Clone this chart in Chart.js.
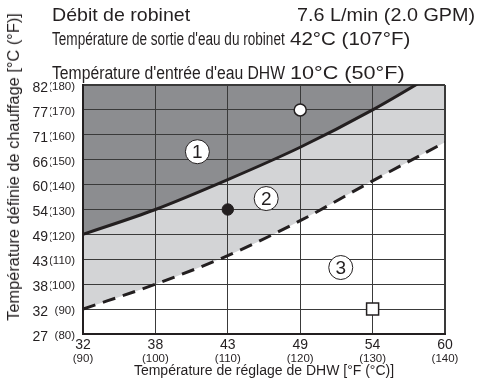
<!DOCTYPE html>
<html lang="fr">
<head>
<meta charset="utf-8">
<script src="https://cdn.jsdelivr.net/npm/chart.js@4.4.0/dist/chart.umd.min.js"></script>
<style>
  html, body { margin: 0; padding: 0; background: #fff; }
  #marco { position: relative; width: 477px; height: 381px; overflow: hidden;
           font-family: "Liberation Sans", Arial, sans-serif; color: #231f20; }
  #marco canvas { position: absolute; left: 0; top: 0; }
  .txt { position: absolute; white-space: nowrap; line-height: 1; transform-origin: 0 0; }
  #tituloY { position: absolute; white-space: nowrap; line-height: 1; font-size: 16px; }
</style>
</head>
<body>
<div id="marco">
  <canvas id="grafico" width="477" height="381"></canvas>
  <div class="txt" id="l1a" style="left:52px; top:5px; font-size:19px;">Débit de robinet</div>
  <div class="txt" id="l1b" style="left:297px; top:5px; font-size:19px;">7.6 L/min (2.0 GPM)</div>
  <div class="txt" id="l2a" style="left:52px; top:30px; font-size:18px;">Température de sortie d'eau du robinet</div>
  <div class="txt" id="l2b" style="left:290px; top:29px; font-size:19px;">42°C (107°F)</div>
  <div class="txt" id="l3a" style="left:52px; top:64px; font-size:18px;">Température d'entrée d'eau DHW</div>
  <div class="txt" id="l3b" style="left:290px; top:63px; font-size:19px;">10°C (50°F)</div>
  <div id="tituloY">Température définie de chauffage [°C (°F)]</div>
</div>
<script>
// datos (todo en °F, etiquetas en °C)
const xTicksF = [90, 100, 110, 120, 130, 140];
const xTicksC = ['32', '38', '43', '49', '54', '60'];
const yTicksF = [80, 90, 100, 110, 120, 130, 140, 150, 160, 170, 180];
const yTicksC = ['27', '32', '38', '43', '49', '54', '60', '66', '71', '77', '82'];

const curvaX = [90, 100, 110, 120, 130, 140];
const limiteSuperior = [120, 130, 142, 155, 170, 187];   // línea continua
const limiteInferior = [90, 100, 111.5, 125.5, 141.5, 157]; // línea discontinua

const puntoAbierto = [{ x: 120, y: 170 }];
const puntoLleno = [{ x: 110, y: 130 }];
const cuadrado = [{ x: 130, y: 90 }];

const zonasTexto = ['1', '2', '3'];
const zonasX = [105.8, 115.3, 125.6];
const zonasY = [153.2, 134.4, 106.7];

const negro = '#231f20';
const colorRejilla = '#3a3a3a';

function ajustar(id, ancho) {
  const el = document.getElementById(id);
  el.style.transform = 'scaleX(' + (ancho / el.offsetWidth) + ')';
}
ajustar('l1a', 138);
ajustar('l1b', 178);
ajustar('l2a', 233);
ajustar('l2b', 120);
ajustar('l3a', 233);
ajustar('l3b', 115);

// titulo vertical
const ty = document.getElementById('tituloY');
const escalaY = 308 / ty.offsetWidth;
ty.style.left = '14px';
ty.style.top = '167px';
ty.style.transform = 'translate(-50%, -50%) rotate(-90deg) scaleX(' + escalaY + ')';

Chart.defaults.font.family = '"Liberation Sans", Arial, sans-serif';
Chart.defaults.color = negro;

// circulos numerados de las zonas
const pluginZonas = {
  id: 'zonas',
  afterDatasetsDraw(chart) {
    const { ctx, scales: { x, y } } = chart;
    ctx.save();
    zonasTexto.forEach((t, i) => {
      const px = x.getPixelForValue(zonasX[i]);
      const py = y.getPixelForValue(zonasY[i]);
      ctx.beginPath();
      ctx.arc(px, py, 12, 0, Math.PI * 2);
      ctx.fillStyle = '#fff';
      ctx.fill();
      ctx.lineWidth = 1;
      ctx.strokeStyle = negro;
      ctx.stroke();
      ctx.fillStyle = negro;
      ctx.font = '19px "Liberation Sans", Arial, sans-serif';
      ctx.textAlign = 'center';
      ctx.textBaseline = 'middle';
      ctx.fillText(t, px, py + 1);
    });
    ctx.restore();
  }
};

const anchoRejilla = (max) => (ctx) => (ctx.tick && ctx.tick.value === max ? 2 : 1);

new Chart(document.getElementById('grafico'), {
  type: 'line',
  data: {
    labels: curvaX,
    datasets: [
      {
        // zona 1 (gris oscuro) por encima de la línea continua
        data: curvaX.map((v, i) => ({ x: v, y: limiteSuperior[i] })),
        borderColor: negro,
        borderWidth: 3,
        backgroundColor: '#8c8d90',
        fill: 'end',
        cubicInterpolationMode: 'monotone',
        pointRadius: 0,
        order: 1
      },
      {
        // zona 2 (gris claro) por encima de la discontinua, la zona 1 se pinta encima
        data: curvaX.map((v, i) => ({ x: v, y: limiteInferior[i] })),
        borderColor: negro,
        borderWidth: 3,
        borderDash: [13, 8],
        backgroundColor: '#d3d4d6',
        fill: 'end',
        cubicInterpolationMode: 'monotone',
        pointRadius: 0,
        order: 1
      },
      {
        data: puntoAbierto,
        showLine: false,
        fill: false,
        pointRadius: 6,
        pointBackgroundColor: '#fff',
        pointBorderColor: negro,
        pointBorderWidth: 1.5,
        order: 0
      },
      {
        data: puntoLleno,
        showLine: false,
        fill: false,
        pointRadius: 5.7,
        pointBackgroundColor: negro,
        pointBorderColor: negro,
        pointBorderWidth: 1,
        order: 0
      },
      {
        data: cuadrado,
        showLine: false,
        fill: false,
        pointStyle: 'rect',
        pointRadius: 8.5,
        pointBackgroundColor: '#fff',
        pointBorderColor: negro,
        pointBorderWidth: 1.5,
        order: 0
      }
    ]
  },
  options: {
    responsive: false,
    animation: false,
    layout: { padding: { top: 85, right: 32, left: 0, bottom: 0 } },
    plugins: {
      legend: { display: false },
      tooltip: { enabled: false },
      filler: { drawTime: 'beforeDraw' }
    },
    scales: {
      x: {
        type: 'linear', position: 'bottom', min: 90, max: 140, weight: 0,
        ticks: {
          stepSize: 10, autoSkip: false, maxRotation: 0, padding: 3,
          font: { size: 14 },
          callback: v => xTicksC[xTicksF.indexOf(v)]
        },
        grid: { color: colorRejilla, lineWidth: anchoRejilla(140), drawTicks: false },
        border: { color: negro, width: 2 },
        afterFit: s => { s.height = 16; }
      },
      x2: {
        type: 'linear', position: 'bottom', min: 90, max: 140, weight: 1,
        ticks: {
          stepSize: 10, autoSkip: false, maxRotation: 0, padding: 2,
          font: { size: 11.5 },
          callback: v => '(' + xTicksF[xTicksF.indexOf(v)] + ')'
        },
        grid: { display: false, drawTicks: false },
        border: { display: false },
        title: {
          display: true,
          text: 'Température de réglage de DHW [°F (°C)]',
          font: { size: 14 },
          padding: { top: 0, bottom: 1 }
        },
        afterFit: s => { s.height = 31; }
      },
      y: {
        type: 'linear', position: 'left', min: 80, max: 180, weight: 0,
        ticks: {
          stepSize: 10, autoSkip: false, padding: 8, labelOffset: 2,
          font: { size: 11.5 },
          callback: v => '(' + yTicksF[yTicksF.indexOf(v)] + ')'
        },
        grid: { color: colorRejilla, lineWidth: anchoRejilla(180), drawTicks: false },
        border: { color: negro, width: 2 },
        afterFit: s => { s.width = 33; }
      },
      y2: {
        type: 'linear', position: 'left', min: 80, max: 180, weight: 1,
        ticks: {
          stepSize: 10, autoSkip: false, padding: 2, labelOffset: 3,
          font: { size: 14 },
          callback: v => yTicksC[yTicksF.indexOf(v)]
        },
        grid: { display: false, drawTicks: false },
        border: { display: false },
        afterFit: s => { s.width = 50; }
      }
    }
  },
  plugins: [pluginZonas]
});
</script>
</body>
</html>
